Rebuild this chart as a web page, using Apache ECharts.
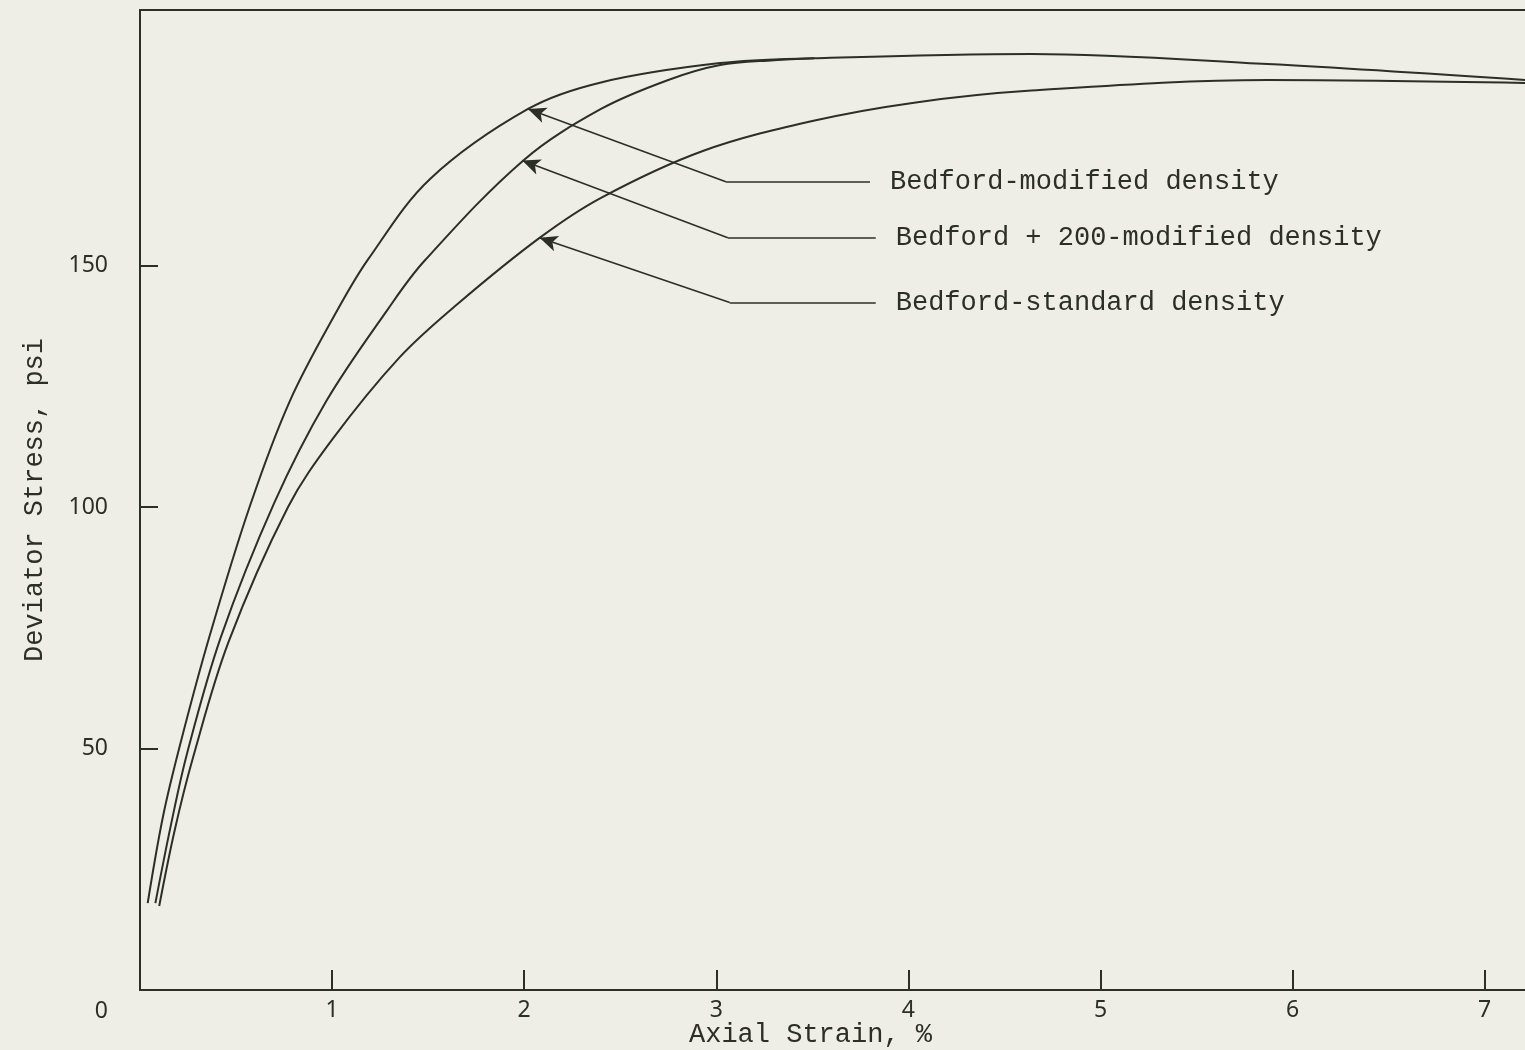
<!DOCTYPE html>
<html>
<head>
<meta charset="utf-8">
<script src="https://cdn.jsdelivr.net/npm/echarts@6/dist/echarts.min.js"></script>
<style>
html,body{margin:0;padding:0;background:#eeeee6;}
#chart{width:1525px;height:1050px;}
</style>
</head>
<body>
<div id="chart"></div>
<script>
// Axial strain (%) vs deviator stress (psi)
const modifiedDensity = [[0.04,18],[0.12,36],[0.21,51],[0.36,73],[0.57,100],[0.78,122],[1.03,141],[1.19,151.5],[1.51,168],[2.02,182.5],[2.40,188],[3.02,192],[3.51,193],[4.64,193.9],[5.87,191.8],[7.21,188.5]];
const plus200Modified = [[0.08,18],[0.16,34],[0.245,49],[0.42,73],[0.70,101],[0.97,122],[1.29,141],[1.48,151],[2.0,172],[2.4,182.5],[2.75,188.5],[3.02,191.6],[3.3,192.6],[3.51,193]];
const standardDensity = [[0.10,17.4],[0.18,33],[0.275,48],[0.46,72],[0.77,100],[1.0,114],[1.35,131],[1.65,142],[2.08,155.8],[2.40,164.1],[2.93,173.8],[3.5,180],[4.03,183.8],[4.64,186.3],[5.87,188.5],[7.21,187.9]];
const seriesNames = ['Bedford-modified density','Bedford + 200-modified density','Bedford-standard density'];
const xTicks = [1,2,3,4,5,6,7];
const yTicks = [0,50,100,150];
// annotation leaders: [arrow tip, elbow, end] in data coordinates
const leaders = [
  [[2.02,182.5],[3.05,167.4],[3.80,167.4]],
  [[1.99,171.8],[3.06,155.8],[3.83,155.8]],
  [[2.08,155.8],[3.07,142.4],[3.83,142.4]]
];

const ink = '#2b2f25';
const mono = '"Liberation Mono", "DejaVu Sans Mono", monospace';
const sans = '"Noto Sans", "DejaVu Sans", sans-serif';

const chart = echarts.init(document.getElementById('chart'));

const markLineData = [];
leaders.forEach((l, i) => {
  markLineData.push([
    {coord: l[0], symbol: 'arrow', symbolSize: [12, 18]},
    {coord: l[1], symbol: 'none'}
  ]);
  markLineData.push([
    {coord: l[1], symbol: 'none', name: seriesNames[i]},
    {coord: l[2], symbol: 'none',
     label: {show: true, position: 'end', distance: 20, formatter: seriesNames[i],
             fontFamily: mono, fontSize: 27, color: ink}}
  ]);
});

function curve(name, data) {
  return {
    name: name, type: 'line', data: data, smooth: 0.35,
    showSymbol: false, symbol: 'none',
    lineStyle: {color: ink, width: 2}, z: 3
  };
}

chart.setOption({
  animation: false,
  backgroundColor: '#eeeee6',
  grid: {left: 140, right: 0, top: 10, bottom: 60, outerBoundsMode: 'none', containLabel: false},
  xAxis: [{
    type: 'value', min: 0, max: 7.21, interval: 1,
    name: 'Axial Strain, %', nameLocation: 'middle', nameGap: 31, nameMoveOverlap: false,
    nameTextStyle: {fontFamily: mono, fontSize: 27, color: ink, padding: [0, 44, 0, 0]},
    axisLine: {show: true, lineStyle: {color: ink, width: 2}},
    axisTick: {show: true, inside: true, length: 20, customValues: xTicks, lineStyle: {color: ink, width: 2}},
    axisLabel: {margin: 9, fontFamily: sans, fontSize: 23, color: ink, customValues: xTicks,
      formatter: v => String(v)},
    splitLine: {show: false}
  }, {
    type: 'value', position: 'top', min: 0, max: 7.21,
    axisLine: {show: true, onZero: false, lineStyle: {color: ink, width: 2}},
    axisTick: {show: false}, axisLabel: {show: false}, splitLine: {show: false}
  }],
  yAxis: {
    type: 'value', min: 0, max: 203, interval: 50,
    name: 'Deviator Stress, psi', nameLocation: 'middle', nameGap: 92, nameMoveOverlap: false,
    nameTextStyle: {fontFamily: mono, fontSize: 27, color: ink},
    axisLine: {show: true, lineStyle: {color: ink, width: 2}},
    axisTick: {show: true, inside: true, length: 18, customValues: yTicks, lineStyle: {color: ink, width: 2}},
    axisLabel: {margin: 32, fontFamily: sans, fontSize: 23, color: ink, customValues: yTicks,
      formatter: v => (v === 0 ? '{z|0}' : String(v)),
      rich: {z: {fontFamily: sans, fontSize: 23, color: ink, padding: [42, 0, 0, 0]}}},
    splitLine: {show: false}
  },
  series: [
    curve(seriesNames[0], modifiedDensity),
    curve(seriesNames[1], plus200Modified),
    curve(seriesNames[2], standardDensity),
    {
      type: 'line', data: [], silent: true,
      markLine: {
        silent: true, symbol: 'none', animation: false,
        lineStyle: {color: ink, width: 1.6, type: 'solid'},
        label: {show: false},
        emphasis: {disabled: true},
        data: markLineData
      }
    }
  ]
});
</script>
</body>
</html>
